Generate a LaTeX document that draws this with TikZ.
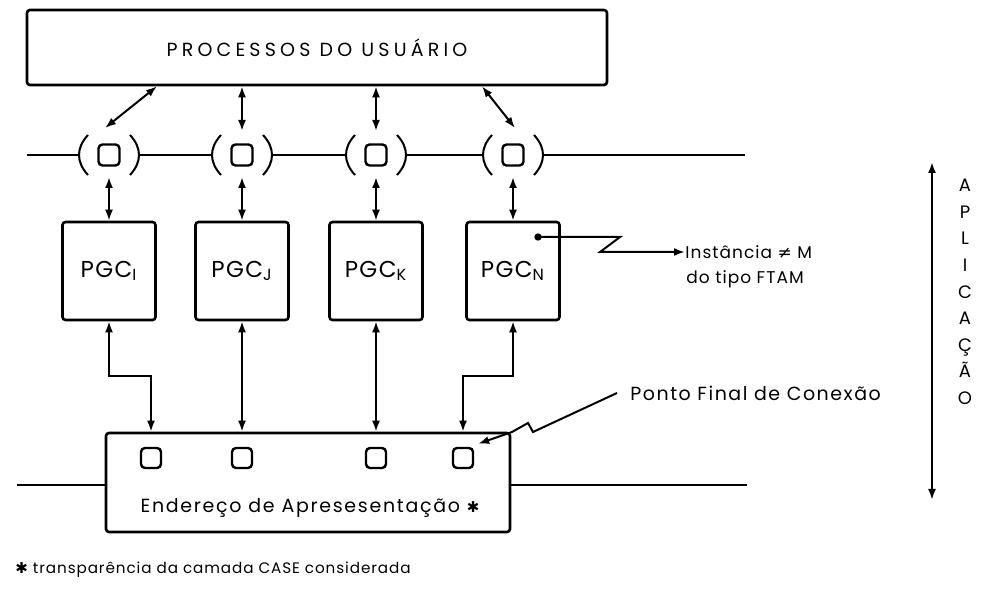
\documentclass[tikz,border=0pt]{standalone}
\usepackage{fontspec}
\setmainfont{Poppins}[LetterSpace=6]
\newfontfamily\symfont{DejaVu Sans}
\usetikzlibrary{arrows.meta, positioning, calc}
\tikzstyle{layer} = [rectangle, rounded corners=1.5pt, draw=black, line width=1.3pt, inner sep=0pt]
\tikzstyle{pgc} = [rectangle, rounded corners=1.5pt, minimum width=46.5pt, minimum height=49pt, draw=black, line width=1.3pt, font=\fontsize{11.5}{13}\selectfont]
\tikzstyle{port} = [rectangle, rounded corners=2pt, minimum size=10.5pt, draw=black, line width=1.2pt, inner sep=0pt]
\tikzstyle{note} = [font=\fontsize{9.5}{11}\selectfont, inner sep=0pt]
\tikzstyle{wire} = [line width=1pt]
\tikzstyle{arrow} = [line width=1pt, -{Latex[length=5.5pt,width=4pt]}]
\tikzstyle{dblarrow} = [line width=1pt, {Latex[length=5.5pt,width=4pt]}-{Latex[length=5.5pt,width=4pt]}]
\newcommand{\starmark}{{\symfont\fontsize{7.5}{8}\selectfont ✱}}

\begin{document}
\begin{tikzpicture}[x=0.5pt, y=-0.5pt]
    \useasboundingbox (0,0) rectangle (985,592);

    \node (usr) [layer, minimum width=290pt, minimum height=37.5pt, font=\fontsize{9.5}{11}\selectfont\addfontfeatures{LetterSpace=22}] at (317,47.5) {PROCESSOS DO USUÁRIO};

    % pontos de acesso na camada
    \foreach \n/\x in {1/109, 2/242, 3/376, 4/513}
        \node (sq\n) [port] at (\x,155) {};
    \foreach \n in {1,...,4} {
        \draw [wire] ($(sq\n)+(-10.5pt,10pt)$) .. controls ($(sq\n)+(-16.5pt,3.5pt)$) and ($(sq\n)+(-16.5pt,-3.5pt)$) .. ($(sq\n)+(-10.5pt,-10pt)$);
        \draw [wire] ($(sq\n)+(10.5pt,10pt)$) .. controls ($(sq\n)+(16.5pt,3.5pt)$) and ($(sq\n)+(16.5pt,-3.5pt)$) .. ($(sq\n)+(10.5pt,-10pt)$);
    }
    \coordinate (tl) at (27,155);
    \coordinate (tr) at (745,155);
    \draw [wire] (tl) -- ($(sq1)+(-15pt,0)$);
    \foreach \a/\b in {1/2, 2/3, 3/4}
        \draw [wire] ($(sq\a)+(15pt,0)$) -- ($(sq\b)+(-15pt,0)$);
    \draw [wire] ($(sq4)+(15pt,0)$) -- (tr);

    \node (pgc1) [pgc] at (109,271) {PGC\textsubscript{I}};
    \node (pgc2) [pgc] at (242,271) {PGC\textsubscript{J}};
    \node (pgc3) [pgc] at (376,271) {PGC\textsubscript{K}};
    \node (pgc4) [pgc] at (513,271) {PGC\textsubscript{N}};

    \draw [dblarrow] ([xshift=-80pt]usr.south) -- ([xshift=-2pt,yshift=13.5pt]sq1.center);
    \draw [dblarrow] (usr.south -| sq2) -- ([yshift=12pt]sq2.center);
    \draw [dblarrow] (usr.south -| sq3) -- ([yshift=12pt]sq3.center);
    \draw [dblarrow] ([xshift=82.5pt]usr.south) -- ([xshift=1pt,yshift=13.5pt]sq4.center);
    \foreach \n in {1,...,4}
        \draw [dblarrow] ([yshift=-11pt]sq\n.center) -- (pgc\n.north);

    % instancia
    \node (dot) [circle, fill=black, inner sep=1.3pt] at (538,237) {};
    \node (inst1) [note, anchor=west, font=\fontsize{8.5}{10}\selectfont] at (685,252) {Instância {\symfont ≠} M};
    \node (inst2) [note, anchor=west, font=\fontsize{8.5}{10}\selectfont] at (686,279) {do tipo FTAM};
    \draw [arrow] (dot.center) -- (620,237) -- (600,252) -- (inst1.west);

    % endereco de apresentacao
    \node (end) [layer, minimum width=202pt, minimum height=49.5pt] at (308,482.5) {};
    \node (endtxt) [note, font=\fontsize{9.5}{11}\selectfont\addfontfeatures{LetterSpace=9}] at (310,508) {Endereço de Apresesentação \starmark};
    \foreach \n/\x in {1/151, 2/242, 3/376, 4/463}
        \node (bs\n) [port, minimum size=10pt] at (\x,458) {};

    \draw [dblarrow] (pgc1.south) -- ++(0,55) -| (bs1 |- end.north);
    \draw [dblarrow] (pgc2.south) -- (bs2 |- end.north);
    \draw [dblarrow] (pgc3.south) -- (bs3 |- end.north);
    \draw [dblarrow] (pgc4.south) -- ++(0,55) -| (bs4 |- end.north);

    \coordinate (bl) at (17,485);
    \coordinate (br) at (747,485);
    \draw [wire] (bl) -- (bl -| end.west);
    \draw [wire] (br -| end.east) -- (br);

    \node (pfc) [note, anchor=west, font=\fontsize{9.5}{11}\selectfont\addfontfeatures{LetterSpace=8}] at (630,393) {Ponto Final de Conexão};
    \draw [arrow] ([xshift=-6.5pt]pfc.west) -- (533,432) -- (528,423) -- (512,432) -- ([xshift=2pt,yshift=1.5pt]bs4.north east);

    % aplicacao
    \coordinate (atop) at (932,162);
    \coordinate (abot) at (932,500);
    \draw [dblarrow] (atop) -- (abot);
    \node (apl) [note, align=center, font=\fontsize{9}{13.3}\selectfont] at (965,292) {A\\P\\L\\I\\C\\A\\Ç\\Ã\\O};

    \node (foot) [note, anchor=west, font=\fontsize{7.6}{9}\selectfont] at (15,570) {\starmark\ transparência da camada CASE considerada};
\end{tikzpicture}
\end{document}
